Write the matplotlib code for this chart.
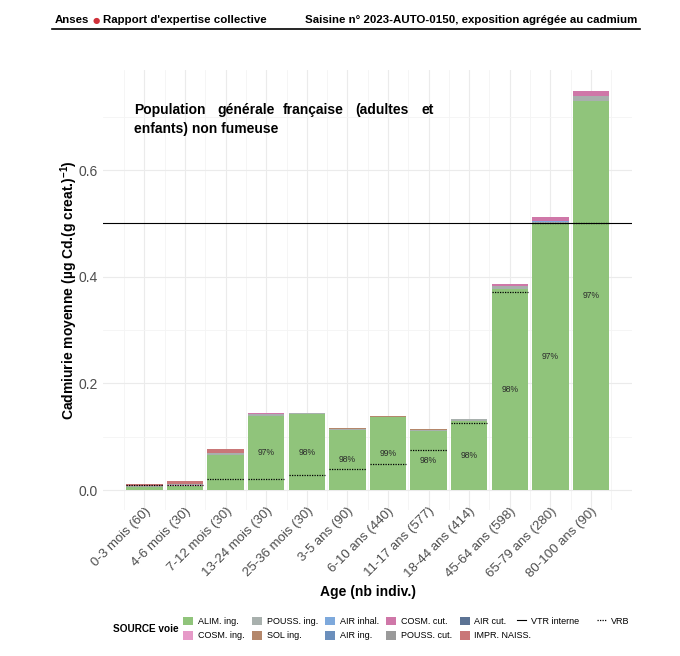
import numpy as np
import matplotlib.pyplot as plt
from matplotlib.patches import Patch
from matplotlib.lines import Line2D

plt.rcParams["font.family"] = ["Liberation Sans", "DejaVu Sans"]
plt.rcParams["mathtext.default"] = "regular"

ages = ["0-3 mois (60)", "4-6 mois (30)", "7-12 mois (30)", "13-24 mois (30)",
        "25-36 mois (30)", "3-5 ans (90)", "6-10 ans (440)", "11-17 ans (577)",
        "18-44 ans (414)", "45-64 ans (598)", "65-79 ans (280)", "80-100 ans (90)"]

# contributions par source (µg Cd / g creat.)
alim_ing = [0.0050, 0.0075, 0.0656, 0.1394, 0.1421, 0.1133, 0.1366, 0.1114, 0.1303, 0.3778, 0.4990, 0.7290]
cosm_ing = [0.0008, 0.0010, 0.0005, 0.0000, 0.0000, 0.0000, 0.0000, 0.0000, 0.0000, 0.0000, 0.0000, 0.0000]
pouss_ing = [0.0022, 0.0034, 0.0039, 0.0035, 0.0015, 0.0018, 0.0012, 0.0018, 0.0022, 0.0045, 0.0036, 0.0090]
sol_ing = [0.0002, 0.0002, 0.0002, 0.0005, 0.0002, 0.0003, 0.0002, 0.0003, 0.0000, 0.0000, 0.0000, 0.0000]
air_inhal = [0.0000, 0.0000, 0.0000, 0.0000, 0.0012, 0.0002, 0.0000, 0.0002, 0.0002, 0.0002, 0.0009, 0.0010]
air_ing = [0.0000, 0.0000, 0.0000, 0.0000, 0.0000, 0.0000, 0.0000, 0.0000, 0.0000, 0.0000, 0.0000, 0.0000]
cosm_cut = [0.0000, 0.0000, 0.0000, 0.0003, 0.0000, 0.0000, 0.0000, 0.0000, 0.0003, 0.0030, 0.0085, 0.0095]
pouss_cut = [0.0000, 0.0000, 0.0000, 0.0000, 0.0000, 0.0000, 0.0000, 0.0000, 0.0000, 0.0000, 0.0000, 0.0000]
air_cut = [0.0000, 0.0000, 0.0000, 0.0000, 0.0000, 0.0000, 0.0000, 0.0000, 0.0000, 0.0000, 0.0000, 0.0000]
impr_naiss = [0.0037, 0.0044, 0.0069, 0.0000, 0.0000, 0.0000, 0.0000, 0.0000, 0.0000, 0.0000, 0.0000, 0.0000]

vrb = [0.009, 0.0094, 0.020, 0.020, 0.029, 0.040, 0.049, 0.075, 0.125, 0.3705, 0.50, 0.50]
vtr_interne = 0.5

# ordre de la legende (par colonne), aussi ordre d'empilement
sources = [
    ("ALIM. ing.", alim_ing, "#90c47b"),
    ("COSM. ing.", cosm_ing, "#e69ac8"),
    ("POUSS. ing.", pouss_ing, "#a8b0ad"),
    ("SOL ing.", sol_ing, "#b4876b"),
    ("AIR inhal.", air_inhal, "#7ea9dc"),
    ("AIR ing.", air_ing, "#6b8fbc"),
    ("COSM. cut.", cosm_cut, "#cf77a8"),
    ("POUSS. cut.", pouss_cut, "#9a9a9a"),
    ("AIR cut.", air_cut, "#5c7394"),
    ("IMPR. NAISS.", impr_naiss, "#c97778"),
]

W, H = 680, 656
fig = plt.figure(figsize=(W / 100, H / 100), dpi=100)
ax = fig.add_axes([103 / W, 1 - 510 / H, (632 - 103) / W, (510 - 70) / H])

x = np.arange(len(ages))
bottom = np.zeros(len(ages))
for label, vals, col in sources:
    ax.bar(x, vals, 0.9, bottom=bottom, color=col, linewidth=0)
    bottom += np.array(vals)

# part alimentaire
for i in range(3, len(ages)):
    pct = round(alim_ing[i] / bottom[i] * 100)
    ax.text(x[i], alim_ing[i] / 2, f"{pct}%", ha="center", va="center",
            fontsize=6.2, color="#2b2b2b")

ax.axhline(vtr_interne, color="black", lw=0.8)
ax.hlines(vrb, x - 0.45, x + 0.45, colors="black", linestyles=(0, (1, 1)), lw=0.9)

ax.set_xlim(-1.02, 12.01)
ax.set_ylim(-0.0375, 0.7875)
ax.set_yticks([0, 0.2, 0.4, 0.6])
ax.set_yticklabels(["0.0", "0.2", "0.4", "0.6"])
ax.set_yticks([0.1, 0.3, 0.5, 0.7], minor=True)
ax.set_xticks(x)
ax.set_xticklabels(ages, rotation=45, ha="right", va="top", rotation_mode="anchor")
ax.set_xticks(np.arange(-0.5, 12, 1), minor=True)
ax.grid(which="major", color="#ebebeb", lw=0.8)
ax.grid(which="minor", color="#f4f4f4", lw=0.6)
ax.set_axisbelow(True)
for s in ax.spines.values():
    s.set_visible(False)
ax.tick_params(which="both", length=0)
ax.tick_params(axis="y", labelsize=10, labelcolor="#4d4d4d", pad=4)
ax.tick_params(axis="x", labelsize=9.5, labelcolor="#4d4d4d", pad=-3.5)

ax.set_ylabel("Cadmiurie moyenne (µg Cd.(g creat.)$^{-1}$)", fontsize=10,
              fontweight="bold")
ax.yaxis.set_label_coords((80 - 103) / 529, 0.5)
ax.set_xlabel("Age (nb indiv.)", fontsize=10, fontweight="bold")
ax.xaxis.set_label_coords(0.5, (510 - 585) / 440)

# titre justifie dans le panneau
words = ["Population", "générale", "française", "(adultes", "et"]
word_x = [134, 217, 283, 355, 422]
for w, px in zip(words, word_x):
    fig.text(px / W, 1 - 110 / H, w, fontsize=10, fontweight="bold", va="center")
fig.text(134 / W, 1 - 129 / H, "enfants) non fumeuse", fontsize=10,
         fontweight="bold", va="center")

# en-tete
fig.text(55 / W, 1 - 20 / H, "Anses", fontsize=8.25, fontweight="bold", va="center")
fig.text(96 / W, 1 - 20 / H, "●", fontsize=6, color="#d0313a", va="center",
         ha="center", family="DejaVu Sans")
fig.text(103 / W, 1 - 20 / H, "Rapport d'expertise collective", fontsize=8.25,
         fontweight="bold", va="center")
fig.text(637 / W, 1 - 20 / H, "Saisine n° 2023-AUTO-0150, exposition agrégée au cadmium",
         fontsize=8.25, fontweight="bold", va="center", ha="right")
fig.add_artist(Line2D([52 / W, 640 / W], [1 - 29 / H, 1 - 29 / H],
                      color="black", lw=1.2, transform=fig.transFigure))

# legendes
fig.text(113 / W, 1 - 628.5 / H, "SOURCE voie", fontsize=7.2, fontweight="bold", va="center")
handles = [Patch(facecolor=c, label=l) for l, v, c in sources]
fig.legend(handles=handles, ncol=5, loc="center left",
           bbox_to_anchor=(183 / W, 1 - 628.5 / H), frameon=False, fontsize=6.5,
           handlelength=1.1, handleheight=1.1, handletextpad=0.55,
           columnspacing=0.8, labelspacing=0.55, borderaxespad=0, borderpad=0)
line_handles = [Line2D([], [], color="black", lw=0.8, label="VTR interne"),
                Line2D([], [], color="black", lw=0.9, ls=(0, (1, 1)), label="VRB")]
fig.legend(handles=line_handles, ncol=2, loc="center left",
           bbox_to_anchor=(517 / W, 1 - 621 / H), frameon=False, fontsize=6.5,
           handlelength=1.0, handletextpad=0.55, columnspacing=2.0,
           borderaxespad=0, borderpad=0)

fig.savefig("out.png", dpi=100)
